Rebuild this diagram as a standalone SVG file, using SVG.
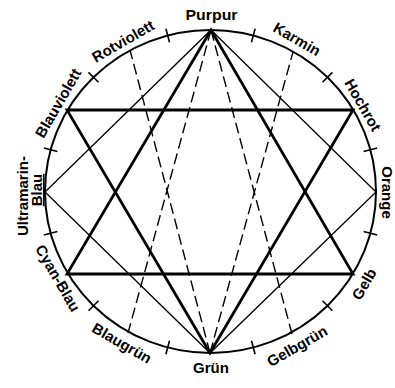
<svg xmlns="http://www.w3.org/2000/svg" width="395" height="388" viewBox="0 0 395 388">
<style>
.lbl{font-family:"Liberation Sans",Arial,sans-serif;font-weight:bold;font-size:15px;fill:#000;text-anchor:middle}
.ring{fill:none;stroke:#000;stroke-width:2}
.tick{stroke:#000;stroke-width:1.6;fill:none}
.thick{stroke:#000;stroke-width:2.8;fill:none;stroke-linejoin:miter}
.thin{stroke:#000;stroke-width:1.3;fill:none}
.dash{stroke:#000;stroke-width:1.4;fill:none;stroke-dasharray:11 5}
</style>
<rect width="395" height="388" fill="#fff"/>
<g id="wheel">
<ellipse class="ring" cx="210.5" cy="191.5" rx="165.5" ry="161.5"/>
<g id="ticks">
<line class="tick" x1="251.5" y1="42.3" x2="255.1" y2="28.7"/>
<line class="tick" x1="322.5" y1="82.2" x2="332.4" y2="72.4"/>
<line class="tick" x1="363.6" y1="151.5" x2="377.2" y2="147.9"/>
<line class="tick" x1="363.6" y1="231.5" x2="377.2" y2="235.1"/>
<line class="tick" x1="322.5" y1="300.8" x2="332.4" y2="310.7"/>
<line class="tick" x1="251.5" y1="340.7" x2="255.1" y2="354.3"/>
<line class="tick" x1="169.5" y1="340.7" x2="165.9" y2="354.3"/>
<line class="tick" x1="98.5" y1="300.8" x2="88.5" y2="310.7"/>
<line class="tick" x1="57.4" y1="231.5" x2="43.8" y2="235.1"/>
<line class="tick" x1="57.4" y1="151.5" x2="43.8" y2="147.9"/>
<line class="tick" x1="98.5" y1="82.2" x2="88.5" y2="72.4"/>
<line class="tick" x1="169.5" y1="42.3" x2="165.9" y2="28.7"/>
</g>
</g>
<g id="connectors">
<polygon class="thick" points="211,30 67,274 353,274"/>
<polygon class="thick" points="210,353 67,110 353,110"/>
<polygon class="thin" points="211,30 376,192 210,353 45,192"/>
<line class="dash" x1="211" y1="30" x2="128" y2="333"/>
<line class="dash" x1="211" y1="30" x2="292" y2="334"/>
<line class="dash" x1="210" y1="353" x2="130" y2="50"/>
<line class="dash" x1="210" y1="353" x2="293" y2="52"/>
</g>
<g id="purpur"><text class="lbl" x="211.5" y="20" textLength="52" lengthAdjust="spacingAndGlyphs">Purpur</text></g>
<g id="karmin"><text class="lbl" transform="translate(297,39) rotate(30)" y="5.4">Karmin</text></g>
<g id="hochrot"><text class="lbl" transform="translate(363,105) rotate(60)" y="5.4">Hochrot</text></g>
<g id="orange"><text class="lbl" transform="translate(382,192.5) rotate(90)" y="0">Orange</text></g>
<g id="gelb"><text class="lbl" transform="translate(364,284) rotate(-60)" y="5.4">Gelb</text></g>
<g id="gelbgruen"><text class="lbl" transform="translate(297,346) rotate(-30)" y="5.4">Gelbgrün</text></g>
<g id="gruen"><text class="lbl" x="211" y="373">Grün</text></g>
<g id="blaugruen"><text class="lbl" transform="translate(122,343) rotate(30)" y="5.4">Blaugrün</text></g>
<g id="cyanblau"><text class="lbl" transform="translate(58,278) rotate(60)" y="5.4">Cyan-Blau</text></g>
<g id="ultramarinblau"><text class="lbl" transform="translate(28,192) rotate(-90)"><tspan x="-4" y="0">Ultramarin-</tspan><tspan x="2" y="14" text-decoration="underline">Blau</tspan></text></g>
<g id="blauviolett"><text class="lbl" transform="translate(58,103) rotate(-60)" y="5.4">Blauviolett</text></g>
<g id="rotviolett"><text class="lbl" transform="translate(123,41) rotate(-30)" y="5.4">Rotviolett</text></g>
</svg>
